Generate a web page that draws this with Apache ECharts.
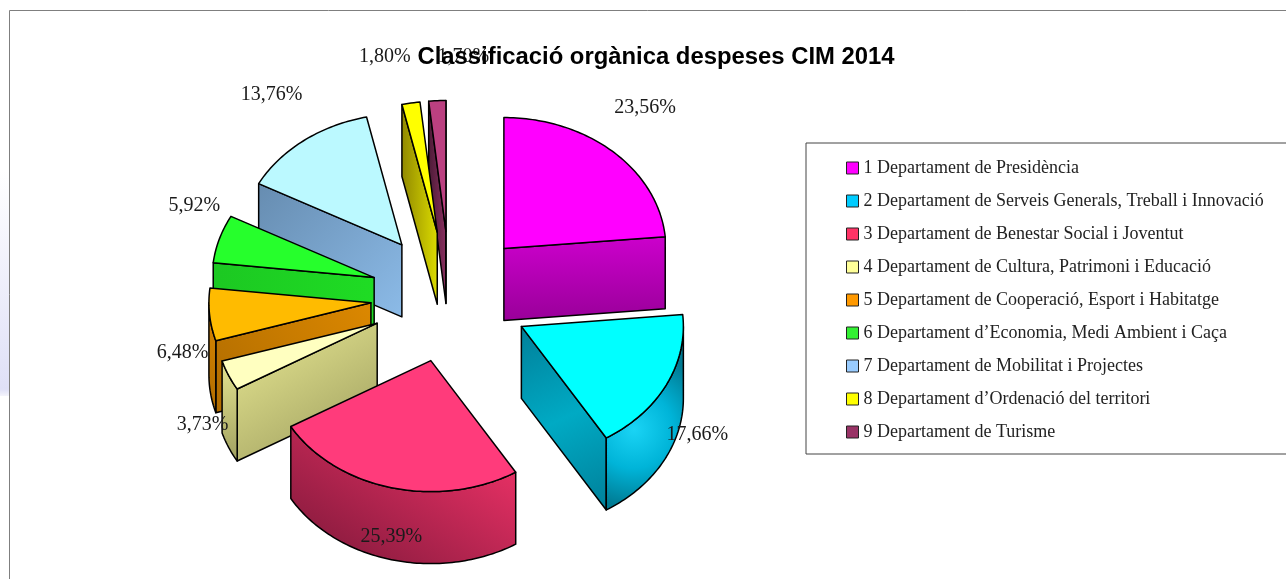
<!DOCTYPE html>
<html>
<head>
<meta charset="utf-8">
<style>html,body{margin:0;padding:0;background:#fff}#c{width:1286px;height:579px}</style>
<script src="https://cdn.jsdelivr.net/npm/echarts@6/dist/echarts.min.js"></script>
</head>
<body>
<div id="c"></div>
<script>
// ---- data ----
const chartTitle = 'Classificació orgànica despeses CIM 2014';
const departments = [
  '1 Departament de Presidència',
  '2 Departament de Serveis Generals, Treball i Innovació',
  '3 Departament de Benestar Social i Joventut',
  '4 Departament de Cultura, Patrimoni i Educació',
  '5 Departament de Cooperació, Esport i Habitatge',
  '6 Departament d’Economia, Medi Ambient i Caça',
  '7 Departament de Mobilitat i Projectes',
  '8 Departament d’Ordenació del territori',
  '9 Departament de Turisme'
];
const shares = [23.56, 17.66, 25.39, 3.73, 6.48, 5.92, 13.76, 1.80, 1.70];

// ---- colours ----
const legendColors = ['#FF00FF','#00CCFF','#FF3366','#FFFF99','#FF9900','#33F033','#99CCFF','#FFFF00','#993366'];
const topColors    = ['#FF00FF','#00FFFF','#FF3B7B','#FFFFC0','#FFBB00','#26FF2C','#BBF9FF','#FFFF00','#BB4080'];
const wallGradients = [
  [0, 0, 0, 1, ['#CC00CC', '#990099']],
  [0, 0, 1, 1, ['#007F99', '#00AAC4', '#007F99']],
  [0.7, 0, 0.3, 1, ['#E63064', '#8E1C40']],
  [0.8, 1, 0.2, 0, ['#A0A060', '#E4E490']],
  [1, 0, 0, 1, ['#DC8800', '#B06C00']],
  [0, 0, 1, 0, ['#1CC822', '#1FDC24']],
  [0, 0, 1, 1, ['#668CB0', '#8CBBE8']],
  [0, 0, 1, 0, ['#908800', '#DCDC00']],
  [0, 0, 1, 0, ['#4A1A35', '#8A3060']]
];

// ---- layout ----
const CX = 450.2, CY = 297, RX = 162, RY = 131, DEPTH = 72, EXPLODE_X = 79.6, EXPLODE_Y = 65.6;
const drawOrder = [0, 8, 7, 6, 5, 4, 3, 2, 1];
const labelOffsets = [[32,-44],[31,50],[0,49],[-26,49],[-27,38],[-25,-33],[-32,-46],[-26,-46],[26,-44]];

const starts = [];
shares.reduce((sum, v, i) => { starts[i] = sum; return sum + v; }, 0);
const toAngle = p => p / 100 * 2 * Math.PI;
const fmt = v => v.toFixed(2).replace('.', ',') + '%';

function gradient(i) {
  const g = wallGradients[i], n = g[4].length - 1;
  return { type:'linear', x:g[0], y:g[1], x2:g[2], y2:g[3],
    colorStops: g[4].map((color, k) => ({ offset:k / n, color })) };
}
function arcWallFill(i) {
  if (i !== 1) return gradient(i);
  return { type:'radial', x:0.36, y:0.56, r:1.0, colorStops:[
    { offset:0, color:'#1AD4F5' }, { offset:0.5, color:'#00B4D8' }, { offset:1, color:'#007A92' }] };
}

function renderSlice(i) {
  return function (params, api) {
    const a0 = toAngle(api.value(0)), a1 = toAngle(api.value(0) + api.value(1));
    const mid = (a0 + a1) / 2;
    const ax = CX + EXPLODE_X * Math.sin(mid), ay = CY - EXPLODE_Y * Math.cos(mid);
    const pt = a => [ax + RX * Math.sin(a), ay - RY * Math.cos(a)];
    const down = p => [p[0], p[1] + DEPTH];
    const arc = (from, to) => {
      const n = Math.max(2, Math.ceil((to - from) / 0.02)), out = [];
      for (let k = 0; k <= n; k++) out.push(pt(from + (to - from) * k / n));
      return out;
    };
    const edge = { stroke:'#000', lineWidth:1.5, lineJoin:'round' };
    const children = [];
    const wall = (points, fill) => children.push({ type:'polygon', shape:{ points }, style:{ fill, ...edge } });

    // radial walls facing the viewer
    const apex = [ax, ay];
    if (Math.cos(a0 - Math.PI / 2) < 0) {
      const p = pt(a0);
      wall([apex, p, down(p), down(apex)], gradient(i));
    }
    if (Math.cos(a1 + Math.PI / 2) < 0) {
      const p = pt(a1);
      wall([apex, p, down(p), down(apex)], gradient(i));
    }
    // outer wall: only the lower half of the ellipse shows
    const from = Math.max(a0, Math.PI / 2), to = Math.min(a1, Math.PI * 1.5);
    if (to > from) {
      const top = arc(from, to);
      wall(top.concat(top.map(down).reverse()), arcWallFill(i));
    }
    // top face
    children.push({ type:'polygon', shape:{ points:[apex].concat(arc(a0, a1)) },
      style:{ fill:topColors[i], ...edge } });
    // value label
    const o = labelOffsets[i], lp = pt(mid);
    children.push({ type:'text', x:lp[0] + o[0], y:lp[1] + o[1], silent:true,
      style:{ text:fmt(api.value(1)), fill:'#1a1a1a', font:'20px "Liberation Serif"', align:'center', verticalAlign:'middle' } });
    return { type:'group', children };
  };
}

const chart = echarts.init(document.getElementById('c'), null, { renderer:'canvas' });
chart.setOption({
  animation:false,
  backgroundColor:'#fff',
  title:{ text:chartTitle, left:651, top:40, textAlign:'center', z:20,
    textStyle:{ fontFamily:'Liberation Sans', fontWeight:'bold', fontSize:23.85, color:'#000' } },
  legend:{
    orient:'vertical', left:806, top:143,
    padding:[16, 60, 13, 40], itemWidth:12, itemHeight:12, itemGap:15,
    borderColor:'#444', borderWidth:1, backgroundColor:'#fff',
    selectedMode:false,
    textStyle:{ fontFamily:'Liberation Serif', fontSize:18, color:'#222' },
    data:departments.map((name, i) => ({ name, icon:'rect',
      itemStyle:{ color:legendColors[i], borderColor:'#222', borderWidth:1 } }))
  },
  graphic:[
    { type:'rect', silent:true, z:0, shape:{ x:0, y:170, width:9, height:226 },
      style:{ fill:{ type:'linear', x:0, y:0, x2:0, y2:1, colorStops:[
        { offset:0, color:'#FFFFFF' }, { offset:0.97, color:'#DFE0F7' }, { offset:1, color:'#F4F4FC' }] } } },
    { type:'polyline', silent:true, z:1, shape:{ points:[[9.5,579],[9.5,10.5],[1286,10.5]] },
      style:{ fill:'none', stroke:'#7f7f7f', lineWidth:1 } }
  ],
  series:drawOrder.map((i, rank) => ({
    type:'custom', name:departments[i], coordinateSystem:'none', z:3 + rank, silent:true,
    itemStyle:{ color:legendColors[i] },
    renderItem:renderSlice(i),
    data:[[starts[i], shares[i]]]
  }))
});
</script>
</body>
</html>
